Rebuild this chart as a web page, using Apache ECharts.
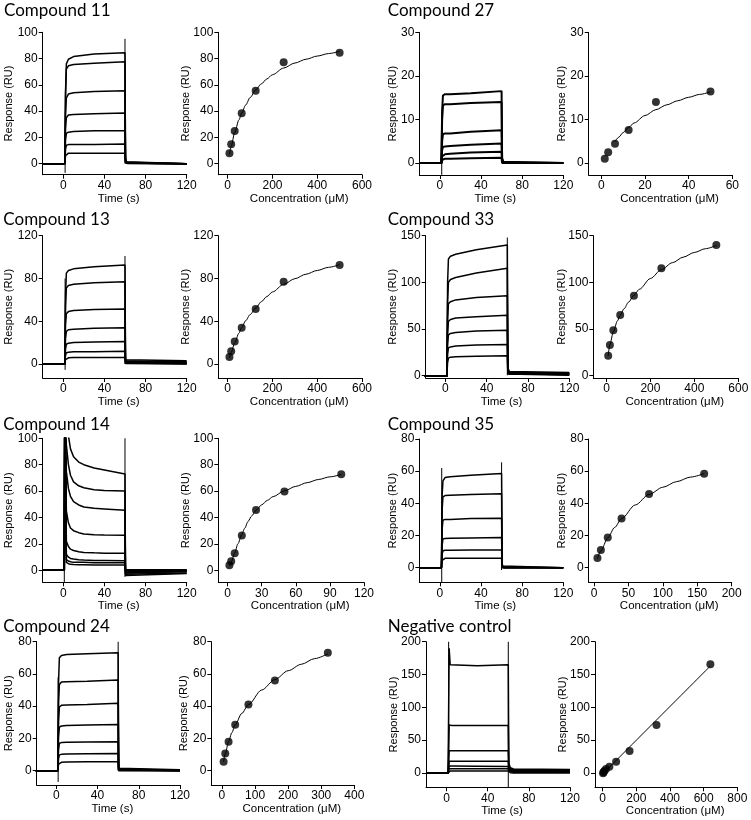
<!DOCTYPE html>
<html><head><meta charset="utf-8">
<script src="https://cdn.jsdelivr.net/npm/echarts@6/dist/echarts.min.js"></script>
<style>html,body{margin:0;padding:0;background:#fff}#c{width:751px;height:820px}</style>
</head><body><div id="c"></div>
<script>
// ---------------- DATA ----------------
const TIME_TICKS = [0, 40, 80, 120];

// Compound 11
const c11_yTicks = [0, 20, 40, 60, 80, 100];
const c11_concTicks = [0, 200, 400, 600];
const c11_time = [-20, 1.5, 2.2, 3, 5, 10, 30, 60, 60.5, 62, 120];
const c11_traces = [
  [0, 0, 55, 76, 79.5, 81.5, 83.5, 84.5, 4, 0.5, 0],
  [0, 0, 52, 72, 74.5, 75.5, 76.5, 77.5, 3.5, 0.5, 0],
  [0, 0, 38, 50, 53, 54, 55, 55.5, 3, 0.3, 0],
  [0, 0, 27, 35, 37, 37.5, 38, 38.5, 2, 0.2, 0],
  [0, 0, 18, 23, 24, 24.5, 25, 25, 1.5, 0.2, 0],
  [0, 0, 11, 14, 14.5, 14.5, 14.5, 15, 1, 0, 0],
  [0, 0, 6, 7.5, 8, 8, 8, 8, 0.5, 0, 0]
];
const c11_spikes = [[[1.8, -7], [1.8, 0]], [[60, 0], [60, 95]]];
const c11_conc = [7.8, 15.6, 31.25, 62.5, 125, 250, 500];
const c11_resp = [8, 14.7, 24.9, 38.3, 55.6, 77.2, 84.5];
const c11_fitX = [7.8, 15.6, 31.25, 50, 62.5, 80, 100, 125, 150, 175, 200, 250, 300, 350, 400, 450, 500];
const c11_fitY = [7.1, 13.3, 23.6, 33.3, 38.5, 44.6, 50.3, 56.1, 60.7, 64.5, 67.7, 72.8, 76.6, 79.5, 81.9, 83.8, 85.5];

// Compound 27
const c27_yTicks = [0, 10, 20, 30];
const c27_concTicks = [0, 20, 40, 60];
const c27_time = [-20, 1.5, 2.2, 3, 5, 10, 30, 60, 60.5, 62, 120];
const c27_traces = [
  [0, 0, 12, 15.5, 15.8, 15.8, 16, 16.5, 1, 0, 0],
  [0, 0, 10, 13.2, 13.5, 13.5, 13.8, 14, 1, 0, 0],
  [0, 0, 5, 6.6, 6.8, 6.8, 7.2, 7.5, 0.5, 0, 0],
  [0, 0, 3, 3.7, 3.8, 3.9, 4.2, 4.5, 0.3, 0, 0],
  [0, 0, 1.5, 1.9, 2, 2.1, 2.4, 2.6, 0.2, 0, 0],
  [0, 0, 0.7, 0.9, 1, 1, 1.1, 1.2, 0, 0, 0]
];
const c27_spikes = [[[1.8, -2.7], [1.8, 0]]];
const c27_conc = [1.56, 3.125, 6.25, 12.5, 25, 50];
const c27_resp = [1.0, 2.45, 4.4, 7.6, 14, 16.4];
const c27_fitX = [6.25, 8, 10, 12.5, 15, 20, 25, 30, 35, 40, 45, 50];
const c27_fitY = [4.9, 5.94, 7.0, 8.17, 9.19, 10.89, 12.25, 13.36, 14.29, 15.08, 15.75, 16.33];

// Compound 13
const c13_yTicks = [0, 40, 80, 120];
const c13_concTicks = [0, 200, 400, 600];
const c13_time = [-20, 1.5, 2.2, 3, 5, 10, 30, 60, 60.5, 62, 120];
const c13_traces = [
  [0, 0, 65, 85, 87.5, 89, 91, 92.5, 4, 3, 3],
  [0, 0, 55, 71, 73.5, 74.5, 76, 77, 4, 2, 2],
  [0, 0, 37, 47, 49, 50, 51, 51.5, 3, 1.5, 1.5],
  [0, 0, 24, 30.5, 32, 32.5, 33.5, 34, 2, 1, 1],
  [0, 0, 14, 18.5, 19.5, 20, 20.5, 21, 1.5, 0.5, 0.5],
  [0, 0, 8, 10.5, 11, 11.5, 11.5, 12, 1, 0.3, 0.3],
  [0, 0, 4, 5.5, 5.8, 6, 6, 6, 0.5, 0, 0]
];
const c13_spikes = [[[1.8, -5.5], [1.8, 80]], [[60, 0], [60, 101]]];
const c13_conc = [7.8, 15.6, 31.25, 62.5, 125, 250, 500];
const c13_resp = [6.5, 12, 21, 34, 51.4, 77, 92.5];
const c13_fitX = [7.8, 15.6, 31.25, 50, 62.5, 80, 100, 125, 150, 175, 200, 250, 300, 350, 400, 450, 500];
const c13_fitY = [5.6, 10.7, 19.7, 28.8, 34.0, 40.4, 46.2, 52.3, 58.2, 63.1, 67.4, 74.5, 79.8, 84.0, 87.5, 90.4, 92.9];

// Compound 33
const c33_yTicks = [0, 50, 100, 150];
const c33_concTicks = [0, 200, 400, 600];
const c33_time = [-20, 1.5, 2.2, 3, 5, 10, 30, 60, 60.5, 62, 120];
const c33_traces = [
  [-1, -1, 100, 125, 128, 130, 135, 140, 8, 4, 3],
  [-1, -1, 80, 100, 103, 105, 110, 115, 6, 3, 2.5],
  [-1, -1, 60, 77, 79, 81, 83.5, 85.5, 5, 2, 2],
  [-1, -1, 45, 58, 60, 61.5, 63, 64.5, 4, 1.5, 1.5],
  [-1, -1, 34, 43.5, 45, 46, 47.5, 48.5, 3, 1, 1],
  [-1, -1, 23, 29.5, 30.5, 31.5, 32.5, 33, 2, 0.5, 0.5],
  [-1, -1, 14, 18.5, 19.5, 20, 20.5, 21, 1.5, 0, 0]
];
const c33_spikes = [[[60, 0], [60, 148]]];
const c33_conc = [7.8, 15.6, 31.25, 62.5, 125, 250, 500];
const c33_resp = [21, 32.6, 48.3, 64.8, 85.6, 115, 140];
const c33_fitX = [7.8, 15.6, 31.25, 50, 62.5, 80, 100, 125, 150, 200, 250, 300, 350, 400, 450, 500];
const c33_fitY = [21, 33, 47, 58.5, 64.5, 71.5, 78.5, 86, 92.5, 104, 113.5, 121, 127, 132, 136, 139.5];

// Compound 14
const c14_yTicks = [0, 20, 40, 60, 80, 100];
const c14_concTicks = [0, 30, 60, 90, 120];
const c14_time = [-20, 1, 1.5, 3, 5, 7, 10, 15, 20, 30, 40, 60, 60.5, 62, 120];
const c14_traces = [
  [0, 0, 130, 120, 102, 92, 86, 82, 80, 77.5, 76, 73, -3, -2.5, -2],
  [0, 0, 130, 95, 80, 72, 67, 64, 62.5, 61, 60.5, 60, -4, -3, -2.5],
  [0, 0, 130, 75, 62, 56, 52, 49.5, 48, 47, 46.5, 45.5, -2, -1.5, -1],
  [0, 0, 130, 45, 36, 32, 30, 28.5, 27.5, 27, 26.8, 26.5, -1, -1, -0.5],
  [0, 0, 130, 22, 18, 16, 15, 14, 13.5, 13.2, 13, 13, -0.5, -0.5, 0],
  [0, 0, 130, 12, 10, 9, 8.5, 8, 7.8, 7.5, 7.5, 7.3, 0, 0, 0],
  [0, 0, 130, 8, 7, 6.5, 6, 6, 6, 5.8, 5.8, 5.8, 0.5, 0.5, 0.5],
  [0, 0, 130, 6, 5, 4.5, 4.3, 4.2, 4.2, 4, 4, 4, -2, -1.5, -1]
];
const c14_spikes = [[[1, -9], [1, 130]], [[60, -5], [60, 100]]];
const c14_conc = [1.56, 3.125, 6.25, 12.5, 25, 50, 100];
const c14_resp = [3.8, 6.8, 12.9, 26.3, 45.7, 59.6, 72.7];
const c14_fitX = [1.56, 3.125, 6.25, 9, 12.5, 15, 18, 21, 25, 30, 35, 40, 50, 60, 70, 80, 90, 100];
const c14_fitY = [3, 6.3, 13, 20, 27, 31.8, 37, 41, 45.5, 49.6, 53, 55.8, 60.2, 63.6, 66.4, 68.8, 70.8, 72.6];

// Compound 35
const c35_yTicks = [0, 20, 40, 60, 80];
const c35_concTicks = [0, 50, 100, 150, 200];
const c35_time = [-20, 1.5, 2.2, 3, 5, 10, 30, 60, 60.5, 62, 120];
const c35_traces = [
  [0, 0, 45, 54, 56, 56.5, 57.5, 58.5, 2, 0, 0],
  [0, 0, 36, 44, 44.8, 45, 45.5, 46, 1.5, 0, 0],
  [0, 0, 24, 29.5, 30, 30, 30.5, 30.7, 1, 0, 0],
  [0, 0, 14, 17.8, 18.2, 18.3, 18.5, 18.7, 0.5, 0, 0],
  [0, 0, 8.5, 10.5, 10.8, 10.8, 11, 11, 0.3, 0, 0],
  [0, 0, 4.5, 5.6, 5.8, 5.8, 5.8, 5.8, 0, 0, 0]
];
const c35_spikes = [[[1.8, -9], [1.8, 62]], [[60, -1.5], [60, 65.5]]];
const c35_conc = [5, 10, 20, 40, 80, 160];
const c35_resp = [6, 11, 18.7, 30.5, 45.8, 58.4];
const c35_fitX = [5, 10, 20, 30, 40, 60, 80, 100, 120, 140, 160];
const c35_fitY = [5.5, 10.5, 18.5, 25, 30.5, 39, 45.5, 50, 53.5, 56.3, 58.5];

// Compound 24
const c24_yTicks = [0, 20, 40, 60, 80];
const c24_concTicks = [0, 100, 200, 300, 400];
const c24_time = [-20, 1.5, 2.2, 3, 5, 10, 30, 60, 60.5, 62, 120];
const c24_traces = [
  [0, 0, 55, 70, 71.5, 72, 72.5, 73.2, 2, 0.5, 0.5],
  [0, 0, 43, 53.5, 55, 55.2, 55.5, 56.2, 1.5, 0.5, 0.5],
  [0, 0, 31, 39.5, 40.5, 40.8, 41, 41.8, 1, 0.3, 0.3],
  [0, 0, 21, 27, 27.7, 28, 28.3, 28.7, 0.8, 0, 0],
  [0, 0, 13, 17, 17.4, 17.6, 17.8, 18, 0.5, 0, 0],
  [0, 0, 7.5, 9.8, 10.1, 10.3, 10.5, 10.7, 0.3, 0, 0],
  [0, 0, 4, 5, 5.2, 5.3, 5.5, 5.6, 0, 0, 0]
];
const c24_spikes = [[[1.8, -7], [1.8, 58]], [[60, 0], [60, 80]]];
const c24_conc = [5, 10, 20, 40, 80, 160, 320];
const c24_resp = [5.6, 10.7, 18, 28.5, 41.1, 56, 73.2];
const c24_fitX = [5, 10, 20, 30, 40, 60, 80, 120, 160, 200, 240, 280, 320];
const c24_fitY = [5.5, 10.5, 18, 23.6, 28.5, 35.5, 41, 50, 56.5, 62, 66, 69.5, 72.5];

// Negative control
const neg_yTicks = [0, 50, 100, 150, 200];
const neg_concTicks = [0, 200, 400, 600, 800];
const neg_time = [-20, 1.5, 2, 2.5, 3.5, 5, 30, 60, 60.5, 62, 65, 120];
const neg_traces = [
  [0, 0, 0, 190, 165, 164, 163.5, 165, 15, 8, 6, 5.5],
  [0, 0, 0, 73, 72.5, 72.5, 72.5, 72.5, 10, 6, 5, 5],
  [0, 0, 0, 34, 34, 34, 34, 34, 8, 5, 4, 4],
  [0, 0, 0, 18, 18, 18, 18, 18, 6, 4, 3, 3],
  [0, 0, 0, 10.5, 10.5, 10.5, 10.3, 10, 4, 2.5, 2, 2],
  [0, 0, 0, 6.5, 6.5, 6.5, 6.5, 6.5, 3, 1.5, 1, 1],
  [0, 0, 0, 3, 3, 3, 3, 3, 1.5, 0.5, 0, 0]
];
const neg_spikes = [[[2, 0], [2, 200]], [[60, -22], [60, 200]]];
const neg_conc = [2.5, 5, 10, 20, 40, 80, 160, 320, 640];
const neg_resp = [-0.5, 1, 3, 6, 9.6, 17.3, 33.5, 73, 165.5];
const neg_fitX = [0, 640];
const neg_fitY = [-1.5, 163];

// ---------------- LAYOUT ----------------
const PANELS = [
  {title: 'Compound 11', tp: [4, 11], L: [42.7, 32.3, 144, 142.4], R: [218.3, 32.3, 143.7, 142.4], ymin: -8.4, tmin: -20, cmin: -42, gL: 28, gR: 27,
   yT: c11_yTicks, cT: c11_concTicks, time: c11_time, traces: c11_traces, spikes: c11_spikes, conc: c11_conc, resp: c11_resp, fx: c11_fitX, fy: c11_fitY},
  {title: 'Compound 27', tp: [387.7, 11], L: [419.3, 32.3, 144, 142.7], R: [588.7, 32.3, 143.6, 142.7], ymin: -2.75, tmin: -20, cmin: -5.8, gL: 20.5, gR: 21,
   yT: c27_yTicks, cT: c27_concTicks, time: c27_time, traces: c27_traces, spikes: c27_spikes, conc: c27_conc, resp: c27_resp, fx: c27_fitX, fy: c27_fitY, lw: 2},
  {title: 'Compound 13', tp: [3.3, 220], L: [42.7, 235.7, 144, 142.3], R: [218.3, 235.7, 143.7, 142.3], ymin: -13.1, tmin: -20, cmin: -42, gL: 28, gR: 27,
   yT: c13_yTicks, cT: c13_concTicks, time: c13_time, traces: c13_traces, spikes: c13_spikes, conc: c13_conc, resp: c13_resp, fx: c13_fitX, fy: c13_fitY},
  {title: 'Compound 33', tp: [387.7, 220], L: [425.7, 235.7, 143.6, 142.3], R: [593.3, 235.7, 145, 142.3], ymin: -2.9, tmin: -19, cmin: -60, gL: 27, gR: 25.5,
   yT: c33_yTicks, cT: c33_concTicks, time: c33_time, traces: c33_traces, spikes: c33_spikes, conc: c33_conc, resp: c33_resp, fx: c33_fitX, fy: c33_fitY},
  {title: 'Compound 14', tp: [3.3, 425], L: [42.7, 438.3, 144, 144], R: [218.3, 438.3, 145.7, 144], ymin: -9.1, tmin: -20, cmin: -8.2, gL: 28, gR: 27,
   yT: c14_yTicks, cT: c14_concTicks, time: c14_time, traces: c14_traces, spikes: c14_spikes, conc: c14_conc, resp: c14_resp, fx: c14_fitX, fy: c14_fitY},
  {title: 'Compound 35', tp: [387.7, 424.5], L: [419.3, 439, 144, 143.3], R: [588.7, 439, 143, 143.3], ymin: -9.1, tmin: -20, cmin: -7.7, gL: 20.5, gR: 21,
   yT: c35_yTicks, cT: c35_concTicks, time: c35_time, traces: c35_traces, spikes: c35_spikes, conc: c35_conc, resp: c35_resp, fx: c35_fitX, fy: c35_fitY},
  {title: 'Compound 24', tp: [3.3, 627], L: [36.7, 641.7, 143.3, 143.3], R: [211.3, 641.7, 143, 143.3], ymin: -8.9, tmin: -19, cmin: -32.2, gL: 22, gR: 22,
   yT: c24_yTicks, cT: c24_concTicks, time: c24_time, traces: c24_traces, spikes: c24_spikes, conc: c24_conc, resp: c24_resp, fx: c24_fitX, fy: c24_fitY},
  {title: 'Negative control', tp: [387.7, 627], L: [426, 641.7, 144, 145.6], R: [595, 641.7, 142.3, 145.6], ymin: -21.8, tmin: -20, cmin: -45.5, gL: 27, gR: 27,
   yT: neg_yTicks, cT: neg_concTicks, time: neg_time, traces: neg_traces, spikes: neg_spikes, conc: neg_conc, resp: neg_resp, fx: neg_fitX, fy: neg_fitY}
];

// ---------------- BUILD ----------------
const FONT = "'Liberation Sans', Arial, sans-serif";
const INK = '#000';
const grids = [], xAxes = [], yAxes = [], series = [], graphics = [];

function baseAxis(gi, min, max, ticks) {
  return {
    gridIndex: gi, type: 'value', min: min, max: max,
    splitLine: {show: false},
    axisLine: {show: true, onZero: false, lineStyle: {color: INK, width: 1}},
    axisTick: {show: true, inside: false, length: 4, customValues: ticks, lineStyle: {color: INK, width: 1}},
    axisLabel: {show: true, customValues: ticks, color: INK, fontFamily: FONT, fontSize: 12, margin: 5},
    nameMoveOverlap: false
  };
}

PANELS.forEach(p => {
  const g = grids.length;
  grids.push({left: p.L[0], top: p.L[1], width: p.L[2], height: p.L[3], containLabel: false, outerBoundsMode: 'none'});
  grids.push({left: p.R[0], top: p.R[1], width: p.R[2], height: p.R[3], containLabel: false, outerBoundsMode: 'none'});
  const ymax = p.yT[p.yT.length - 1];
  const cmax = p.cT[p.cT.length - 1];

  const xl = baseAxis(g, p.tmin, 120, TIME_TICKS);
  xl.name = 'Time (s)'; xl.nameLocation = 'middle'; xl.nameGap = 18;
  xl.nameTextStyle = {color: INK, fontFamily: "'Liberation Sans Narrow', 'Liberation Sans', Arial", fontSize: 11.5, padding: [0, 0, 0, 8]};
  xAxes.push(xl);
  const yl = baseAxis(g, p.ymin, ymax, p.yT);
  yl.name = 'Response (RU)'; yl.nameLocation = 'middle'; yl.nameGap = p.gL;
  yl.nameTextStyle = {color: INK, fontFamily: FONT, fontSize: 11};
  yAxes.push(yl);

  const xr = baseAxis(g + 1, p.cmin, cmax, p.cT);
  xr.name = 'Concentration (\u03BCM)'; xr.nameLocation = 'middle'; xr.nameGap = 18;
  xr.nameTextStyle = {color: INK, fontFamily: FONT, fontSize: 11.5, padding: [0, 0, 0, 18]};
  xAxes.push(xr);
  const yr = baseAxis(g + 1, p.ymin, ymax, p.yT);
  yr.name = 'Response (RU)'; yr.nameLocation = 'middle'; yr.nameGap = p.gR;
  yr.nameTextStyle = {color: INK, fontFamily: FONT, fontSize: 11};
  yAxes.push(yr);

  const lw = p.lw || 1.5;
  p.traces.forEach(tr => {
    series.push({type: 'line', xAxisIndex: g, yAxisIndex: g, data: p.time.map((t, k) => [t, tr[k]]),
      symbol: 'none', clip: true, silent: true, animation: false, lineStyle: {color: INK, width: lw}});
  });
  p.spikes.forEach(sp => {
    series.push({type: 'line', xAxisIndex: g, yAxisIndex: g, data: sp,
      symbol: 'none', clip: true, silent: true, animation: false, lineStyle: {color: INK, width: 1}});
  });
  series.push({type: 'line', xAxisIndex: g + 1, yAxisIndex: g + 1, data: p.fx.map((x, k) => [x, p.fy[k]]),
    symbol: 'none', smooth: 0.3, smoothMonotone: 'x', clip: true, silent: true, animation: false, lineStyle: {color: INK, width: 1}});
  series.push({type: 'scatter', xAxisIndex: g + 1, yAxisIndex: g + 1, data: p.conc.map((x, k) => [x, p.resp[k]]),
    symbol: 'circle', symbolSize: 8, silent: true, animation: false, itemStyle: {color: INK}, z: 5});

  graphics.push({type: 'text', x: p.tp[0], y: p.tp[1], silent: true,
    style: {text: p.title, fontFamily: "Lato, 'Open Sans', sans-serif", fontSize: 17, fill: INK, verticalAlign: 'middle', align: 'left'}});
});

const chart = echarts.init(document.getElementById('c'), null, {renderer: 'canvas', width: 751, height: 820});
chart.setOption({
  animation: false,
  backgroundColor: '#fff',
  grid: grids, xAxis: xAxes, yAxis: yAxes, series: series, graphic: graphics
});
</script></body></html>
